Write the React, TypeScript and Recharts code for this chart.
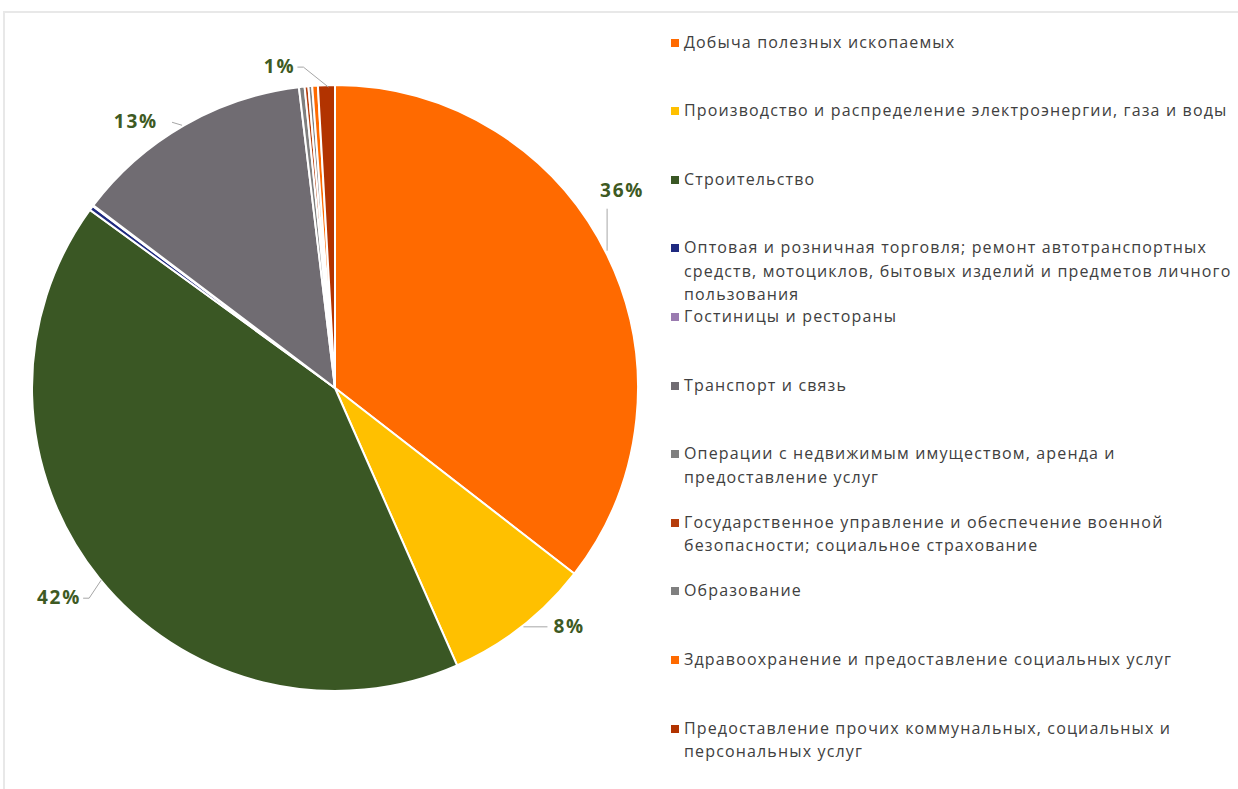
import { PieChart, Pie, Cell } from "recharts";

const sectors = [
  "Добыча полезных ископаемых",
  "Производство и распределение электроэнергии, газа и воды",
  "Строительство",
  "Оптовая и розничная торговля; ремонт автотранспортных\nсредств, мотоциклов, бытовых изделий и предметов личного\nпользования",
  "Гостиницы и рестораны",
  "Транспорт и связь",
  "Операции с недвижимым имуществом, аренда и\nпредоставление услуг",
  "Государственное управление и обеспечение военной\nбезопасности; социальное страхование",
  "Образование",
  "Здравоохранение и предоставление социальных услуг",
  "Предоставление прочих коммунальных, социальных и\nперсональных услуг",
];

const shares = [35.5, 7.9, 41.6, 0.25, 0.05, 12.8, 0.3, 0.2, 0.2, 0.3, 0.9];

const percentLabels = ["36%", "8%", "42%", "", "", "13%", "", "", "", "", "1%"];

const colors = [
  "#ff6a00",
  "#ffc000",
  "#3a5724",
  "#1f2a80",
  "#9a7bb0",
  "#706c72",
  "#7f7f7f",
  "#b53d0c",
  "#7f7f7f",
  "#ff6a00",
  "#b23300",
];

const data = sectors.map((name, i) => ({ name, value: shares[i], label: percentLabels[i] }));

// где ставить подпись относительно точки на краю сектора (как в Excel "по ширине")
const labelOffsets: Record<number, { dx: number; dy: number; line: "v" | "h" | "d" }> = {
  0: { dx: 0, dy: -58, line: "v" },
  1: { dx: 32, dy: 0, line: "h" },
  2: { dx: -40, dy: 16, line: "d" },
  5: { dx: -18, dy: -3, line: "h" },
  10: { dx: -53, dy: -22, line: "d" },
};

const RAD = Math.PI / 180;

const renderLabel = (props: any) => {
  const { cx, cy, midAngle, outerRadius, index, payload } = props;
  const text = payload?.label ?? data[index]?.label;
  const off = labelOffsets[index];
  if (!text || !off) return null;
  const ex = cx + outerRadius * Math.cos(-midAngle * RAD);
  const ey = cy + outerRadius * Math.sin(-midAngle * RAD);
  const tx = ex + off.dx;
  const ty = ey + off.dy;
  let path = "";
  if (off.line === "v") path = `M${ex},${ey - 4} L${ex},${ty + 12}`;
  else if (off.line === "h") {
    const dir = off.dx > 0 ? 1 : -1;
    path = `M${ex + dir * 2},${ey} L${tx - dir * 6},${ty}`;
  } else {
    const dir = off.dx > 0 ? 1 : -1;
    path = `M${ex - dir * 2},${ey + 2} L${tx + (dir > 0 ? -8 : 30)},${ty + 4} L${tx + (dir > 0 ? -16 : 24)},${ty + 4}`;
  }
  let anchor: "start" | "end" | "middle" = "middle";
  let lx = tx;
  let ly = ty;
  if (off.line === "v") {
    lx = tx + 15;
  } else if (off.line === "h") {
    anchor = off.dx > 0 ? "start" : "end";
    lx = tx + (off.dx > 0 ? 0 : -8);
    ly = ty + 6;
  } else {
    anchor = "end";
    lx = tx + 22;
    ly = ty + 10;
  }
  return (
    <g>
      <path d={path} stroke="#a6a6a6" strokeWidth={1} fill="none" />
      <text
        x={lx}
        y={ly}
        textAnchor={anchor}
        fill="#3e5a23"
        fontFamily="'Open Sans', sans-serif"
        fontWeight={700}
        fontSize={19}
        letterSpacing={1.8}
      >
        {text}
      </text>
    </g>
  );
};

export default function App() {
  return (
    <div
      style={{
        position: "absolute",
        left: 0,
        top: 0,
        width: 1238,
        height: 789,
        background: "#fff",
        overflow: "hidden",
      }}
    >
      <div
        style={{
          position: "absolute",
          left: 3,
          top: 11,
          width: 1240,
          height: 790,
          borderTop: "2px solid #e8e8e8",
          borderLeft: "2px solid #e8e8e8",
        }}
      />
      <div style={{ position: "absolute", left: 0, top: 0 }}>
        <PieChart width={660} height={789}>
          <Pie
            data={data}
            dataKey="value"
            nameKey="name"
            cx={330}
            cy={383}
            outerRadius={303}
            startAngle={90}
            endAngle={-270}
            stroke="#ffffff"
            strokeWidth={2}
            label={renderLabel}
            labelLine={false}
            isAnimationActive={false}
          >
            {data.map((d, i) => (
              <Cell key={d.name} fill={colors[i]} />
            ))}
          </Pie>
        </PieChart>
      </div>
      {sectors.map((name, i) => (
        <div
          key={name}
          style={{
            position: "absolute",
            left: 671,
            top: 30.5 + i * 68.6,
            display: "flex",
            alignItems: "flex-start",
            fontFamily: "'Open Sans', sans-serif",
            fontSize: 16,
            lineHeight: "23.5px",
            color: "#404040",
            letterSpacing: 1.15,
            whiteSpace: "pre",
          }}
        >
          <span
            style={{
              width: 8,
              height: 8,
              background: colors[i],
              marginTop: 8,
              marginRight: 5,
              flexShrink: 0,
            }}
          />
          <span>{name}</span>
        </div>
      ))}
    </div>
  );
}
